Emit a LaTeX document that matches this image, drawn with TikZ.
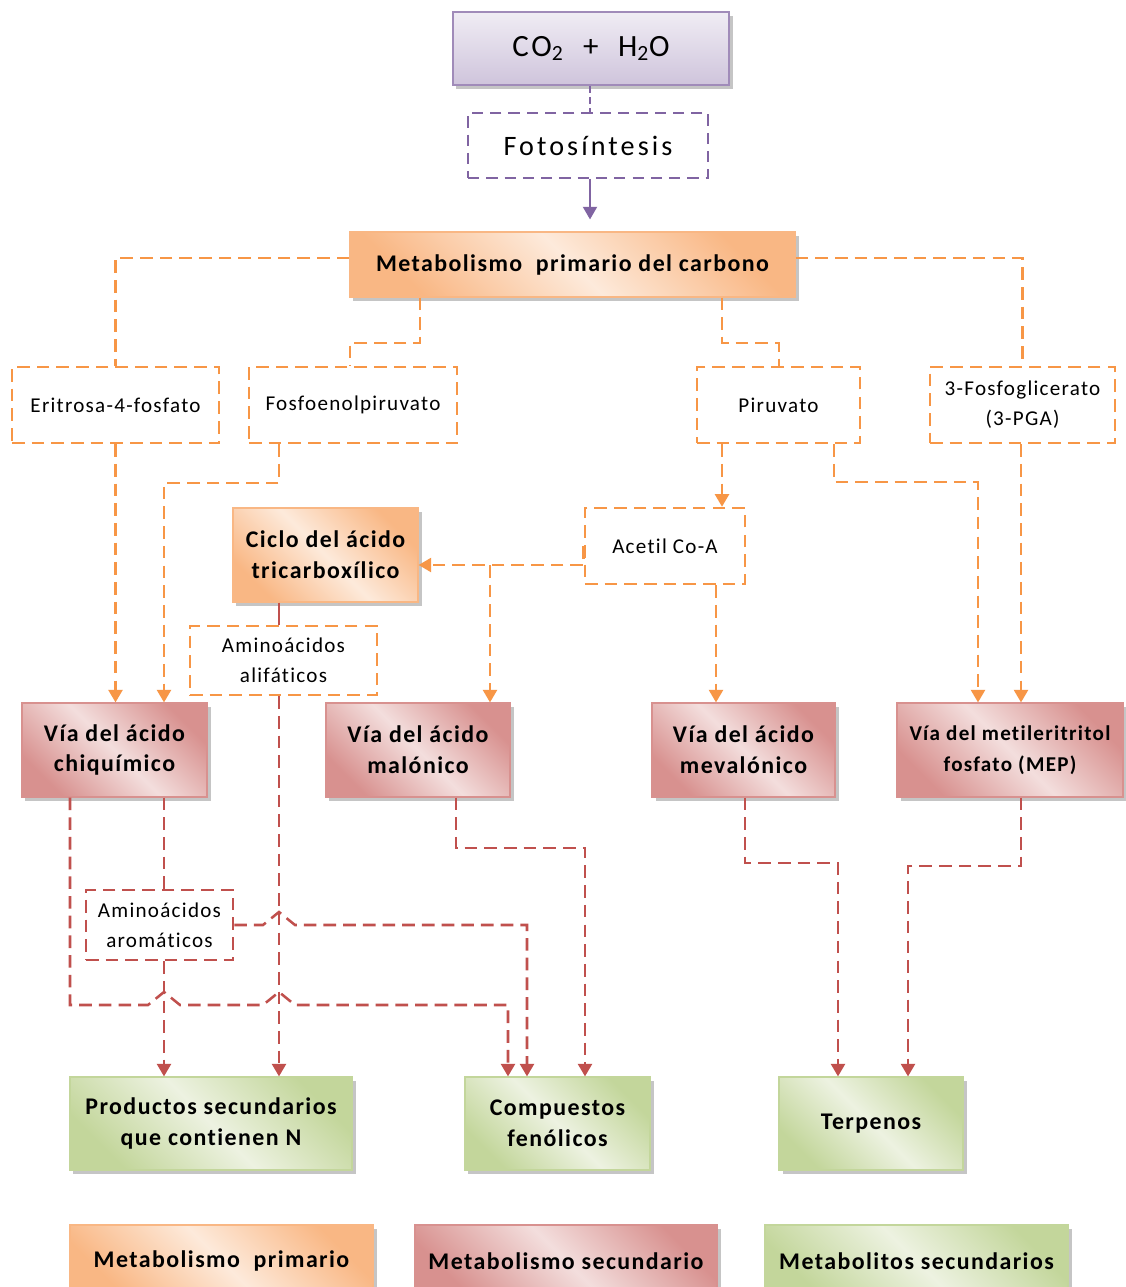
\documentclass[tikz,border=0pt]{standalone}
\usepackage{fontspec}
\setmainfont{Carlito}[LetterSpace=6, Ligatures=NoCommon]
\usetikzlibrary{arrows.meta, shadows}
\definecolor{naranja}{HTML}{F79646}
\definecolor{rojo}{HTML}{C0504D}
\definecolor{morado}{HTML}{8064A2}
\definecolor{naranjaosc}{HTML}{F9B784}
\definecolor{naranjaclaro}{HTML}{FDEADB}
\definecolor{rojoosc}{HTML}{D8918F}
\definecolor{rojoclaro}{HTML}{F3DEDD}
\definecolor{verdeosc}{HTML}{C3D69B}
\definecolor{verdeclaro}{HTML}{EDF2E1}

\begin{document}
\begin{tikzpicture}[x=0.025cm, y=-0.025cm,
    caja/.style={draw, rectangle, align=center, inner sep=2pt, line width=0.8pt,
        font=\fontsize{17}{22}\selectfont\bfseries,
        drop shadow={shadow xshift=2.5pt, shadow yshift=-2.5pt, fill=black!50, opacity=.45}},
    primario/.style={caja, draw=naranjaosc, left color=naranjaosc, right color=naranjaosc, middle color=naranjaclaro, shading angle=135},
    secundario/.style={caja, draw=rojoosc, left color=rojoosc, right color=rojoosc, middle color=rojoclaro, shading angle=135, minimum height=2.35cm},
    producto/.style={caja, draw=verdeosc, left color=verdeosc, right color=verdeosc, middle color=verdeclaro, shading angle=135, minimum height=2.325cm},
    intermedio/.style={draw=naranja, line width=1.8pt, dash pattern=on 9pt off 5pt, fill=white, align=center, inner sep=2pt,
        font=\fontsize{15}{21.5}\selectfont, minimum height=1.9cm},
    intermedior/.style={intermedio, draw=rojo},
    flujo/.style={naranja, line width=1.8pt, dash pattern=on 9pt off 5pt},
    flujor/.style={flujo, rojo},
    punta/.style={-{Triangle[width=10pt,length=9pt]}}]

    \fill[white] (0,0) rectangle (1125,1287);
    \useasboundingbox (0,0) rectangle (1125,1287);

    % entrada
    \node[draw=morado!75, line width=1pt, top color=morado!12, bottom color=morado!38, minimum width=6.9cm, minimum height=1.825cm,
        font=\fontsize{22}{26}\selectfont\addfontfeature{LetterSpace=9}, drop shadow={shadow xshift=2.5pt, shadow yshift=-2.5pt, fill=black!50, opacity=.45}] (co2) at (591,48.5) {CO\textsubscript{2} \ + \ H\textsubscript{2}O};
    \node[draw=morado, line width=1.4pt, dash pattern=on 8pt off 5pt, minimum width=6cm, minimum height=1.625cm,
        font=\fontsize{20}{24}\selectfont\addfontfeature{LetterSpace=11}] (foto) at (588,145.5) {Fotosíntesis};

    % metabolismo primario
    \node[primario, minimum width=11.125cm, minimum height=1.625cm] (metab) at (572.5,264.5) {Metabolismo \ primario del carbono};
    \node[intermedio, minimum width=5.175cm] (eri) at (115.5,405) {Eritrosa-4-fosfato};
    \node[intermedio, minimum width=5.2cm] (fosfo) at (353,405) {Fosfoenolpiruvato};
    \node[intermedio, minimum width=4.075cm] (piru) at (778.5,405) {Piruvato};
    \node[intermedio, minimum width=4.625cm] (pga) at (1022.5,405) {3-Fosfoglicerato\\(3-PGA)};
    \node[intermedio, minimum width=4cm] (acetil) at (665,546) {Acetil Co-A};
    \node[primario, minimum width=4.625cm, minimum height=2.35cm] (ciclo) at (325.5,555) {Ciclo del ácido\\tricarboxílico};
    \node[intermedio, minimum width=4.675cm, minimum height=1.725cm] (alif) at (283.5,660.5) {Aminoácidos\\alifáticos};

    % metabolismo secundario
    \node[secundario, minimum width=4.625cm] (chiq) at (114.5,750) {Vía del ácido\\chiquímico};
    \node[secundario, minimum width=4.6cm] (malo) at (418,750) {Vía del ácido\\malónico};
    \node[secundario, minimum width=4.575cm] (meva) at (743.5,750) {Vía del ácido\\mevalónico};
    \node[secundario, minimum width=5.65cm, font=\fontsize{15}{22}\selectfont\bfseries] (mep) at (1010,750) {Vía del metileritritol\\fosfato (MEP)};
    \node[intermedior, minimum width=3.675cm, minimum height=1.75cm] (arom) at (159.5,925) {Aminoácidos\\aromáticos};

    % metabolitos secundarios
    \node[producto, minimum width=7.05cm] (prod) at (211,1123.5) {Productos secundarios\\que contienen N};
    \node[producto, minimum width=4.625cm] (feno) at (557.5,1123.5) {Compuestos\\fenólicos};
    \node[producto, minimum width=4.6cm] (terp) at (871,1123.5) {Terpenos};

    % leyenda
    \node[primario, minimum width=7.575cm, minimum height=1.8cm] (leyprim) at (221.5,1261) {Metabolismo \ primario};
    \node[secundario, minimum width=7.55cm, minimum height=1.8cm] (leysec) at (566,1261) {Metabolismo secundario};
    \node[producto, minimum width=7.575cm, minimum height=1.8cm] (leymet) at (916.5,1261) {Metabolitos secundarios};

    % fotosintesis
    \draw[morado, line width=1.2pt, dash pattern=on 5pt off 3pt] (590,0 |- co2.south) -- (590,0 |- foto.north);
    \draw[morado, line width=1.4pt, punta, shorten >=0.3cm] (590,0 |- foto.south) -- (590,0 |- metab.north);

    % flujo primario
    \draw[flujo] (metab.west |- 0,258) -| (eri.north);
    \draw[flujo] (metab.east |- 0,258) -| (pga.north);
    \draw[flujo] (420,0 |- metab.south) |- (350,343) -- (350,0 |- fosfo.north);
    \draw[flujo] (722,0 |- metab.south) |- (779,343) -- (779,0 |- piru.north);
    \draw[flujo, punta] (eri.south) -- (eri.south |- chiq.north);
    \draw[flujo, punta] (279,0 |- fosfo.south) |- (164,483) -- (164,0 |- chiq.north);
    \draw[flujo, punta] (722,0 |- piru.south) -- (722,0 |- acetil.north);
    \draw[flujo, punta] (834,0 |- piru.south) |- (978,482) -- (978,0 |- mep.north);
    \draw[flujo, punta] (1021,0 |- pga.south) -- (1021,0 |- mep.north);
    \draw[flujo, punta] (acetil.west) |- (ciclo.east |- 0,565);
    \coordinate (cruce) at (490,565);
    \draw[flujo, punta] (cruce) -- (cruce |- malo.north);
    \draw[flujo, punta] (716,0 |- acetil.south) -- (716,0 |- meva.north);

    % flujo secundario
    \draw[rojo, line width=1.8pt] (279,0 |- ciclo.south) -- (279,0 |- alif.north);
    \draw[flujor, punta] (279,0 |- alif.south) -- (279,0 |- prod.north);
    \draw[flujor] (164,0 |- chiq.south) -- (164,0 |- arom.north);
    \draw[flujor, punta] (164,0 |- arom.south) -- (164,0 |- prod.north);
    \draw[flujor, punta] (70,0 |- chiq.south) -- (70,1005) -- (148,1005) -- (164,992) -- (180,1005)
        -- (263,1005) -- (279,992) -- (295,1005) -- (508,1005) -- (508,0 |- feno.north);
    \draw[flujor, punta] (arom.east) -- (263,925) -- (279,912) -- (295,925) -- (527,925) -- (527,0 |- feno.north);
    \draw[flujor, punta] (456,0 |- malo.south) |- (585,848) -- (585,0 |- feno.north);
    \draw[flujor, punta] (745,0 |- meva.south) |- (838,863) -- (838,0 |- terp.north);
    \draw[flujor, punta] (1021,0 |- mep.south) |- (908,866) -- (908,0 |- terp.north);
\end{tikzpicture}
\end{document}
